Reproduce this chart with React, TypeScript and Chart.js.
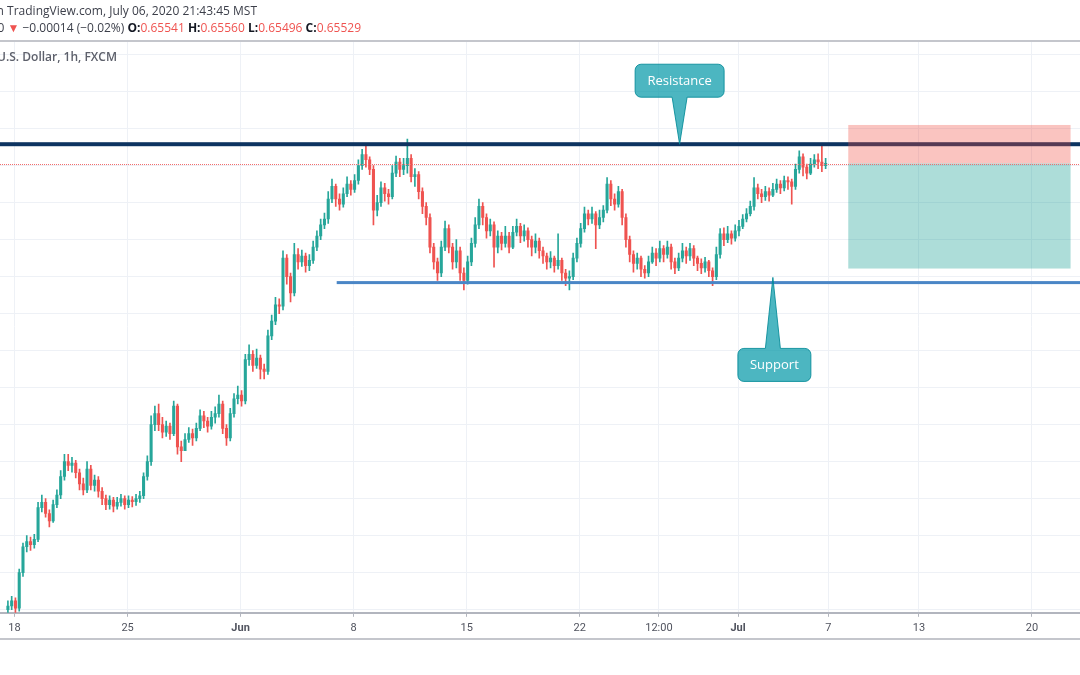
import { useEffect, useRef } from 'react';
import { Chart, registerables } from 'chart.js';

Chart.register(...registerables);

// NZD/USD, 4-hour candles (values in 1/10000), trading-time hours from Mon May 18 00:00 MST
const candleOpen = [
  5950, 5955, 5962, 5952, 6000, 6035, 6042, 6038, 6045, 6088,
  6095, 6080, 6070, 6092, 6105, 6130, 6150, 6145, 6148, 6135,
  6120, 6112, 6140, 6118, 6125, 6110, 6100, 6092, 6098, 6090,
  6095, 6100, 6092, 6098, 6096, 6100, 6104, 6130, 6150, 6200,
  6215, 6200, 6190, 6198, 6188, 6225, 6170, 6165, 6180, 6188,
  6182, 6195, 6212, 6205, 6198, 6210, 6215, 6228, 6195, 6182,
  6215, 6235, 6240, 6232, 6288, 6295, 6280, 6290, 6275, 6272,
  6320, 6340, 6362, 6360, 6425, 6400, 6378, 6430, 6420, 6428,
  6415, 6422, 6440, 6455, 6470, 6478, 6505, 6522, 6505, 6498,
  6512, 6525, 6518, 6530, 6550, 6565, 6558, 6545, 6490, 6500,
  6520, 6512, 6508, 6540, 6555, 6545, 6550, 6560, 6535, 6538,
  6515, 6495, 6480, 6440, 6420, 6405, 6440, 6465, 6440, 6420,
  6435, 6405, 6395, 6420, 6445, 6470, 6495, 6480, 6462, 6470,
  6440, 6455, 6445, 6455, 6440, 6460, 6468, 6455, 6462, 6450,
  6440, 6448, 6435, 6428, 6420, 6425, 6415, 6422, 6405, 6398,
  6400, 6425, 6445, 6465, 6485, 6478, 6485, 6470, 6480, 6490,
  6525, 6505, 6498, 6515, 6480, 6450, 6430, 6418, 6425, 6410,
  6405, 6420, 6432, 6425, 6438, 6430, 6440, 6420, 6412, 6425,
  6435, 6428, 6438, 6425, 6418, 6412, 6420, 6408, 6400, 6430,
  6458, 6450, 6458, 6452, 6462, 6468, 6478, 6485, 6495, 6520,
  6512, 6508, 6515, 6510, 6518, 6525, 6520, 6530, 6528, 6522,
  6545, 6562, 6548, 6540, 6552, 6558, 6555, 6550,
];
const candleHigh = [
  5962, 5968, 5966, 6005, 6040, 6050, 6048, 6052, 6095, 6105,
  6100, 6085, 6098, 6112, 6138, 6160, 6160, 6156, 6152, 6140,
  6128, 6150, 6145, 6132, 6130, 6115, 6105, 6104, 6102, 6102,
  6106, 6104, 6104, 6103, 6106, 6110, 6135, 6158, 6212, 6225,
  6228, 6210, 6205, 6202, 6232, 6228, 6178, 6188, 6196, 6194,
  6202, 6220, 6218, 6210, 6218, 6224, 6240, 6232, 6200, 6222,
  6242, 6252, 6246, 6295, 6308, 6300, 6302, 6294, 6282, 6328,
  6348, 6372, 6370, 6435, 6430, 6405, 6445, 6438, 6436, 6432,
  6430, 6448, 6462, 6478, 6486, 6515, 6532, 6525, 6512, 6520,
  6535, 6530, 6538, 6558, 6572, 6580, 6562, 6550, 6510, 6528,
  6526, 6518, 6550, 6563, 6560, 6560, 6586, 6565, 6546, 6542,
  6520, 6500, 6485, 6445, 6425, 6448, 6475, 6470, 6445, 6450,
  6440, 6412, 6428, 6452, 6480, 6505, 6500, 6485, 6478, 6474,
  6462, 6460, 6468, 6460, 6468, 6478, 6472, 6470, 6466, 6455,
  6458, 6452, 6440, 6432, 6434, 6428, 6458, 6425, 6410, 6408,
  6432, 6452, 6472, 6494, 6490, 6494, 6488, 6490, 6496, 6534,
  6530, 6512, 6522, 6518, 6485, 6455, 6435, 6432, 6428, 6415,
  6428, 6440, 6438, 6448, 6442, 6448, 6444, 6425, 6432, 6445,
  6440, 6445, 6442, 6428, 6424, 6426, 6422, 6412, 6440, 6465,
  6466, 6468, 6462, 6470, 6476, 6484, 6492, 6502, 6534, 6525,
  6518, 6522, 6520, 6526, 6532, 6530, 6536, 6535, 6532, 6552,
  6570, 6566, 6552, 6560, 6565, 6566, 6580, 6560,
];
const candleLow = [
  5946, 5950, 5946, 5948, 5995, 6028, 6030, 6033, 6042, 6082,
  6075, 6062, 6068, 6088, 6100, 6125, 6138, 6136, 6128, 6112,
  6105, 6108, 6112, 6110, 6102, 6092, 6085, 6086, 6082, 6086,
  6090, 6086, 6088, 6089, 6091, 6095, 6100, 6125, 6145, 6192,
  6192, 6182, 6184, 6180, 6185, 6160, 6150, 6170, 6176, 6172,
  6178, 6192, 6196, 6190, 6194, 6202, 6210, 6188, 6172, 6178,
  6210, 6228, 6225, 6228, 6280, 6272, 6276, 6262, 6262, 6268,
  6315, 6335, 6350, 6355, 6390, 6366, 6374, 6410, 6414, 6406,
  6408, 6418, 6435, 6450, 6465, 6472, 6500, 6495, 6490, 6494,
  6508, 6510, 6514, 6525, 6545, 6548, 6538, 6470, 6482, 6495,
  6502, 6498, 6505, 6535, 6535, 6538, 6540, 6528, 6522, 6505,
  6485, 6470, 6432, 6410, 6395, 6400, 6435, 6432, 6410, 6412,
  6395, 6382, 6390, 6415, 6440, 6465, 6470, 6452, 6455, 6413,
  6432, 6436, 6440, 6432, 6438, 6455, 6446, 6448, 6440, 6428,
  6432, 6425, 6418, 6410, 6412, 6406, 6410, 6395, 6388, 6382,
  6396, 6420, 6440, 6460, 6470, 6472, 6438, 6465, 6474, 6486,
  6496, 6490, 6494, 6470, 6440, 6420, 6406, 6410, 6400, 6398,
  6400, 6418, 6415, 6420, 6420, 6425, 6410, 6404, 6408, 6420,
  6418, 6422, 6415, 6408, 6404, 6406, 6400, 6388, 6396, 6425,
  6442, 6446, 6444, 6448, 6455, 6465, 6474, 6482, 6490, 6505,
  6500, 6503, 6502, 6508, 6514, 6512, 6516, 6518, 6498, 6518,
  6540, 6536, 6532, 6538, 6548, 6546, 6542, 6546,
];
const candleClose = [
  5955, 5962, 5952, 6000, 6035, 6042, 6038, 6045, 6088, 6095,
  6080, 6070, 6092, 6105, 6130, 6150, 6145, 6148, 6135, 6120,
  6112, 6140, 6118, 6125, 6110, 6100, 6092, 6098, 6090, 6095,
  6100, 6092, 6098, 6096, 6100, 6104, 6130, 6150, 6200, 6215,
  6200, 6190, 6198, 6188, 6225, 6170, 6165, 6180, 6188, 6182,
  6195, 6212, 6205, 6198, 6210, 6215, 6228, 6195, 6182, 6215,
  6235, 6240, 6232, 6288, 6295, 6280, 6290, 6275, 6272, 6320,
  6340, 6362, 6360, 6425, 6400, 6378, 6430, 6420, 6428, 6415,
  6422, 6440, 6455, 6470, 6478, 6505, 6522, 6505, 6498, 6512,
  6525, 6518, 6530, 6550, 6565, 6558, 6545, 6490, 6500, 6520,
  6512, 6508, 6540, 6555, 6545, 6550, 6560, 6535, 6538, 6515,
  6495, 6480, 6440, 6420, 6405, 6440, 6465, 6440, 6420, 6435,
  6405, 6395, 6420, 6445, 6470, 6495, 6480, 6462, 6470, 6440,
  6455, 6445, 6455, 6440, 6460, 6468, 6455, 6462, 6450, 6440,
  6448, 6435, 6428, 6420, 6425, 6415, 6422, 6405, 6398, 6400,
  6425, 6445, 6465, 6485, 6478, 6485, 6470, 6480, 6490, 6525,
  6505, 6498, 6515, 6480, 6450, 6430, 6418, 6425, 6410, 6405,
  6420, 6432, 6425, 6438, 6430, 6440, 6420, 6412, 6425, 6435,
  6428, 6438, 6425, 6418, 6412, 6420, 6408, 6400, 6430, 6458,
  6450, 6458, 6452, 6462, 6468, 6478, 6485, 6495, 6520, 6512,
  6508, 6515, 6510, 6518, 6525, 6520, 6530, 6528, 6522, 6545,
  6562, 6548, 6540, 6552, 6558, 6555, 6550, 6553,
];
const PRICE_UNIT = 10000;
const BAR_HOURS = 4;
const FIRST_BAR_CENTER_HOUR = -7;

const xTickHours = [0, 120, 240, 360, 480, 600, 684, 768, 864, 960, 1080];
const xTickLabels = ['18', '25', 'Jun', '8', '15', '22', '12:00', 'Jul', '7', '13', '20'];
const monthLabels = ['Jun', 'Jul'];
const yGridLevels = [
  0.595, 0.6, 0.605, 0.61, 0.615, 0.62, 0.625, 0.63, 0.635, 0.64,
  0.645, 0.65, 0.655, 0.66, 0.665, 0.67,
];

const resistanceLevel = 0.6579;
const supportLevel = 0.6392;
const supportStartHour = 342;
const lastPrice = 0.65529;
const positionStartHour = 885;
const positionEndHour = 1121;
const stopLevel = 0.6605;
const targetLevel = 0.6411;
const calloutTexts = ['Resistance', 'Support'];
const calloutHours = [706, 805];
const calloutPrices = [0.6579, 0.6399];

const X_MIN = -15.4;
const X_MAX = 1131;
const Y_MIN = 0.59458;
const Y_MAX = 0.671847;

const UP = '#26a69a';
const DOWN = '#ef5350';

function drawCallout(
  ctx: CanvasRenderingContext2D,
  text: string,
  tx: number,
  ty: number,
  above: boolean
) {
  const w = above ? 89 : 73;
  const h = 33;
  const gap = above ? 47 : 71;
  const cx = above ? tx : tx + 1.5;
  const left = cx - w / 2;
  const right = cx + w / 2;
  const top = above ? ty - gap - h : ty + gap;
  const bottom = top + h;
  const r = 6;
  const half = 7.5;
  ctx.beginPath();
  ctx.moveTo(left + r, top);
  if (!above) {
    ctx.lineTo(tx - half, top);
    ctx.lineTo(tx, ty);
    ctx.lineTo(tx + half, top);
  }
  ctx.lineTo(right - r, top);
  ctx.arcTo(right, top, right, top + r, r);
  ctx.lineTo(right, bottom - r);
  ctx.arcTo(right, bottom, right - r, bottom, r);
  if (above) {
    ctx.lineTo(tx + half, bottom);
    ctx.lineTo(tx, ty);
    ctx.lineTo(tx - half, bottom);
  }
  ctx.lineTo(left + r, bottom);
  ctx.arcTo(left, bottom, left, bottom - r, r);
  ctx.lineTo(left, top + r);
  ctx.arcTo(left, top, left + r, top, r);
  ctx.closePath();
  ctx.fillStyle = 'rgba(0,151,167,0.7)';
  ctx.fill();
  ctx.strokeStyle = 'rgba(0,137,150,0.85)';
  ctx.lineWidth = 1;
  ctx.stroke();
  ctx.fillStyle = '#ffffff';
  ctx.font = '13px "Open Sans", sans-serif';
  ctx.textAlign = 'center';
  ctx.textBaseline = 'middle';
  ctx.fillText(text, cx, (top + bottom) / 2 + 0.5);
}

const overlayPlugin = {
  id: 'tvOverlay',
  afterDatasetsDraw(chart: any) {
    const { ctx, chartArea: a, scales } = chart;
    const xs = scales.x;
    const ys = scales.y;
    ctx.save();
    ctx.beginPath();
    ctx.rect(a.left, a.top, a.right - a.left, a.bottom - a.top);
    ctx.clip();

    const ry = ys.getPixelForValue(resistanceLevel);
    ctx.fillStyle = '#0d3461';
    ctx.fillRect(a.left, ry - 2, a.right - a.left, 4);

    const sy = ys.getPixelForValue(supportLevel);
    const sx = xs.getPixelForValue(supportStartHour);
    ctx.fillStyle = '#4a86c6';
    ctx.fillRect(sx, sy - 1.5, a.right - sx, 3);

    const bx0 = xs.getPixelForValue(positionStartHour);
    const bx1 = xs.getPixelForValue(positionEndHour);
    const yStop = ys.getPixelForValue(stopLevel);
    const yEntry = ys.getPixelForValue(lastPrice);
    const yTarget = ys.getPixelForValue(targetLevel);
    ctx.fillStyle = 'rgba(240,70,60,0.32)';
    ctx.fillRect(bx0, yStop, bx1 - bx0, yEntry - yStop);
    ctx.fillStyle = 'rgba(0,150,136,0.32)';
    ctx.fillRect(bx0, yEntry, bx1 - bx0, yTarget - yEntry);

    ctx.strokeStyle = '#f26d6d';
    ctx.lineWidth = 1;
    ctx.setLineDash([1, 1]);
    ctx.beginPath();
    const ly = Math.round(yEntry) + 0.5;
    ctx.moveTo(a.left, ly);
    ctx.lineTo(a.right, ly);
    ctx.stroke();
    ctx.setLineDash([]);

    calloutTexts.forEach((t, i) => {
      const tx = xs.getPixelForValue(calloutHours[i]);
      const ty = ys.getPixelForValue(calloutPrices[i]);
      drawCallout(ctx, t, tx, ty, i === 0);
    });
    ctx.restore();
  },
};

export default function App() {
  const ref = useRef<HTMLCanvasElement>(null);

  useEffect(() => {
    const colors = candleClose.map((c, i) => (c >= candleOpen[i] ? UP : DOWN));
    const hours = candleClose.map((_, i) => FIRST_BAR_CENTER_HOUR + BAR_HOURS * i);
    const wickData = hours.map((x, i) => ({
      x,
      y: [candleLow[i] / PRICE_UNIT, candleHigh[i] / PRICE_UNIT],
    }));
    const bodyData = hours.map((x, i) => ({
      x,
      y: [candleOpen[i] / PRICE_UNIT, candleClose[i] / PRICE_UNIT],
    }));

    const chart = new Chart(ref.current as HTMLCanvasElement, {
      type: 'bar',
      data: {
        datasets: [
          {
            label: 'wick',
            data: wickData as any,
            backgroundColor: colors,
            barThickness: 1,
            grouped: false,
            borderWidth: 0,
            order: 2,
          } as any,
          {
            label: 'body',
            data: bodyData as any,
            backgroundColor: colors,
            barThickness: 2.4,
            grouped: false,
            borderWidth: 0,
            minBarLength: 1,
            order: 1,
          } as any,
        ],
      },
      options: {
        animation: false,
        responsive: false,
        maintainAspectRatio: false,
        layout: { padding: { top: 41, bottom: 35, left: 0, right: 0 } },
        plugins: {
          legend: { display: false },
          tooltip: { enabled: false },
        },
        scales: {
          x: {
            type: 'linear',
            min: X_MIN,
            max: X_MAX,
            offset: false,
            grid: {
              color: '#eef1f6',
              lineWidth: 1,
              drawTicks: true,
              tickLength: 4,
              tickColor: '#b2b5be',
              offset: false,
            },
            border: { display: true, color: '#b2b5be', width: 2 },
            afterBuildTicks: (s: any) => {
              s.ticks = xTickHours.map((v) => ({ value: v }));
            },
            ticks: {
              autoSkip: false,
              maxRotation: 0,
              minRotation: 0,
              padding: 5,
              color: '#50535e',
              font: (c: any) => ({
                family: 'Roboto, sans-serif',
                size: 11,
                weight: monthLabels.includes(xTickLabels[c.index]) ? 'bold' : 'normal',
              }),
              callback: (_v: any, i: number) => xTickLabels[i],
            },
          } as any,
          y: {
            type: 'linear',
            min: Y_MIN,
            max: Y_MAX,
            position: 'right',
            grid: { color: '#eef1f6', drawTicks: false },
            border: { display: false },
            ticks: { display: false },
            afterBuildTicks: (s: any) => {
              s.ticks = yGridLevels.map((v) => ({ value: v }));
            },
          } as any,
        },
      },
      plugins: [overlayPlugin],
    });
    return () => chart.destroy();
  }, []);

  const red = '#ef5350';
  const lbl = { fontWeight: 700, color: '#131722' } as const;
  return (
    <div
      style={{
        position: 'fixed',
        left: 0,
        top: 0,
        width: 1080,
        height: 675,
        background: '#ffffff',
        overflow: 'hidden',
        fontFamily: '"Open Sans", sans-serif',
      }}
    >
      <canvas
        ref={ref}
        width={1080}
        height={675}
        style={{ position: 'absolute', left: 0, top: 0, width: 1080, height: 675 }}
      />
      <div
        style={{
          position: 'absolute',
          right: 1080 - 257,
          top: 2,
          whiteSpace: 'nowrap',
          fontSize: 12,
          lineHeight: '18px',
          color: '#3c3f4a',
        }}
      >
        Published on TradingView.com, July 06, 2020 21:43:45 MST
      </div>
      <div
        style={{
          position: 'absolute',
          right: 1080 - 361,
          top: 19,
          whiteSpace: 'nowrap',
          fontSize: 12,
          lineHeight: '18px',
          color: '#3c3f4a',
        }}
      >
        FXCM:NZDUSD, 60 <span style={{ color: red }}>▼</span> −0.00014 (−0.02%){' '}
        <span style={lbl}>O:</span>
        <span style={{ color: red }}>0.65541</span> <span style={lbl}>H:</span>
        <span style={{ color: red }}>0.65560</span> <span style={lbl}>L:</span>
        <span style={{ color: red }}>0.65496</span> <span style={lbl}>C:</span>
        <span style={{ color: red }}>0.65529</span>
      </div>
      <div
        style={{
          position: 'absolute',
          left: 0,
          top: 40,
          width: 1080,
          height: 2,
          background: '#c4c6cc',
        }}
      />
      <div
        style={{
          position: 'absolute',
          right: 1080 - 117,
          top: 48,
          whiteSpace: 'nowrap',
          fontSize: 12,
          lineHeight: '18px',
          fontWeight: 600,
          color: '#5d606b',
        }}
      >
        New Zealand Dollar / U.S. Dollar, 1h, FXCM
      </div>
      <div
        style={{
          position: 'absolute',
          left: 0,
          top: 638,
          width: 1080,
          height: 2,
          background: '#c4c6cc',
        }}
      />
    </div>
  );
}
